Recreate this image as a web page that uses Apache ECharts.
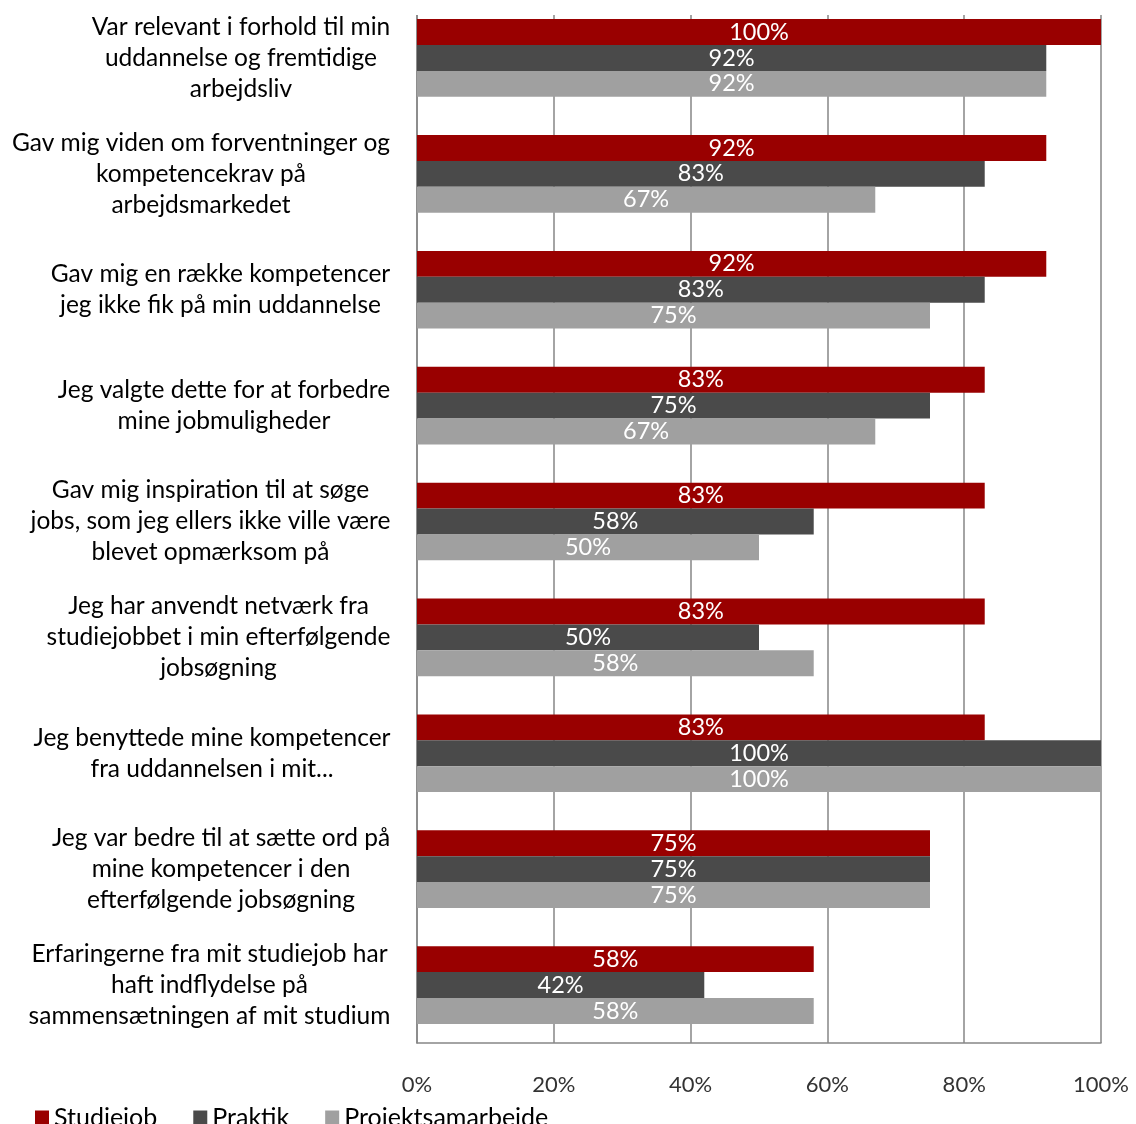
<!DOCTYPE html>
<html>
<head>
<meta charset="utf-8">
<script src="https://cdn.jsdelivr.net/npm/echarts@6/dist/echarts.min.js"></script>
<style>
  html, body { margin: 0; padding: 0; background: #fff; }
  #chart { width: 1136px; height: 1124px; }
</style>
</head>
<body>
<div id="chart"></div>
<script>
// Survey statements (top to bottom)
const categories = [
  "Var relevant i forhold til min\nuddannelse og fremtidige\narbejdsliv",
  "Gav mig viden om forventninger og\nkompetencekrav på\narbejdsmarkedet",
  "Gav mig en række kompetencer\njeg ikke fik på min uddannelse",
  "Jeg valgte dette for at forbedre\nmine jobmuligheder",
  "Gav mig inspiration til at søge\njobs, som jeg ellers ikke ville være\nblevet opmærksom på",
  "Jeg har anvendt netværk fra\nstudiejobbet i min efterfølgende\njobsøgning",
  "Jeg benyttede mine kompetencer\nfra uddannelsen i mit...",
  "Jeg var bedre til at sætte ord på\nmine kompetencer i den\nefterfølgende jobsøgning",
  "Erfaringerne fra mit studiejob har\nhaft indflydelse på\nsammensætningen af mit studium"
];

// Share agreeing, in percent
const seriesNames = ["Studiejob", "Praktik", "Projektsamarbejde"];
const studiejob = [100, 92, 92, 83, 83, 83, 83, 75, 58];
const praktik = [92, 83, 83, 75, 58, 50, 100, 75, 42];
const projektsamarbejde = [92, 67, 75, 67, 50, 58, 100, 75, 58];

// Value axis ticks
const xMin = 0, xMax = 100, xStep = 20;

const colors = ["#990000", "#4a4a4a", "#a0a0a0"];
const FONT = "Lato";
const catFontSize = 24.5;
const gridColor = "#868686";

// Each category block is right-aligned, with its lines centred on the widest line
const measureCtx = document.createElement("canvas").getContext("2d");
measureCtx.font = catFontSize + "px " + FONT;
const rich = {};
categories.forEach((c, i) => {
  const w = Math.max(...c.split("\n").map(l => measureCtx.measureText(l).width));
  rich["b" + i] = {
    width: Math.ceil(w) + 1,
    align: "center",
    fontSize: catFontSize,
    fontFamily: FONT,
    color: "#000",
    lineHeight: 31
  };
});

const chart = echarts.init(document.getElementById("chart"), null, { renderer: "canvas" });

const barLabel = {
  show: true,
  position: "inside",
  color: "#fff",
  fontSize: 23.5,
  fontFamily: FONT,
  formatter: "{c}%"
};

chart.setOption({
  animation: false,
  backgroundColor: "#fff",
  textStyle: { fontFamily: FONT },
  color: colors,
  grid: { left: 417, right: 35, top: -5, bottom: 81, containLabel: false },
  legend: {
    top: 1100,
    left: 30,
    icon: "rect",
    itemWidth: 14,
    itemHeight: 14,
    itemGap: 36,
    textStyle: { fontSize: 25, fontFamily: FONT, color: "#000" },
    data: seriesNames
  },
  xAxis: {
    type: "value",
    min: xMin,
    max: xMax,
    interval: xStep,
    axisLine: { show: true, lineStyle: { color: gridColor, width: 1.5 } },
    axisTick: { show: false },
    splitLine: { show: true, lineStyle: { color: gridColor, width: 1.5 } },
    axisLabel: {
      formatter: "{value}%",
      fontSize: 22,
      fontFamily: FONT,
      color: "#333",
      margin: 31
    }
  },
  yAxis: {
    type: "category",
    inverse: true,
    data: categories,
    axisLine: { show: true, lineStyle: { color: gridColor, width: 1.5 } },
    axisTick: { show: false },
    axisLabel: {
      align: "right",
      margin: 26,
      interval: 0,
      formatter: (value) => {
        const i = categories.indexOf(value);
        return value.split("\n").map(l => "{b" + i + "|" + l + "}").join("\n");
      },
      rich: rich
    }
  },
  series: [
    { name: seriesNames[0], type: "bar", data: studiejob, barGap: "0%", barCategoryGap: "33%", label: barLabel },
    { name: seriesNames[1], type: "bar", data: praktik, barGap: "0%", barCategoryGap: "33%", label: barLabel },
    { name: seriesNames[2], type: "bar", data: projektsamarbejde, barGap: "0%", barCategoryGap: "33%", label: barLabel }
  ],
  graphic: [
    { type: "rect", left: 405, top: 0, z: 100, silent: true,
      shape: { width: 731, height: 15 }, style: { fill: "#fff" } }
  ]
});
</script>
</body>
</html>
